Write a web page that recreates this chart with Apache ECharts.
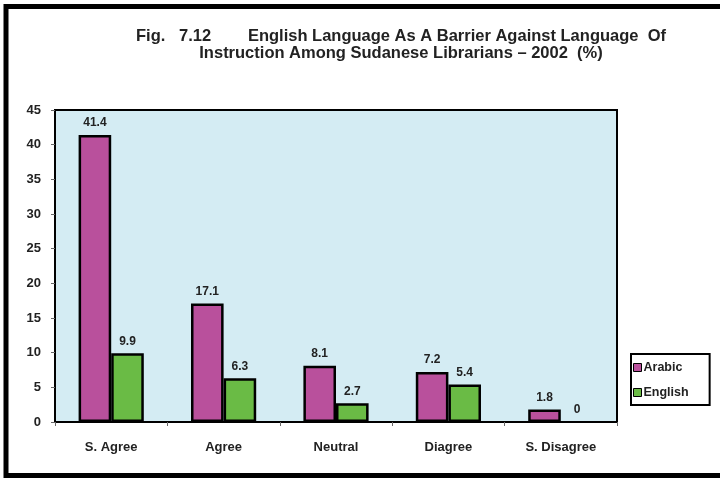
<!DOCTYPE html>
<html>
<head>
<meta charset="utf-8">
<script src="https://cdn.jsdelivr.net/npm/echarts@6/dist/echarts.min.js"></script>
<style>
  html, body { margin: 0; padding: 0; background: #fff; }
  #chart { width: 720px; height: 478px; }
</style>
</head>
<body>
<div id="chart"></div>
<script>
// Response categories and percentages per language of instruction
const categories = ['S. Agree', 'Agree', 'Neutral', 'Diagree', 'S. Disagree'];
const arabic = [41.4, 17.1, 8.1, 7.2, 1.8];
const english = [9.9, 6.3, 2.7, 5.4, 0];
const seriesNames = ['Arabic', 'English'];

const FONT = '"Liberation Sans", Arial, sans-serif';
const labelStyle = {
  show: true,
  position: 'top',
  distance: 6,
  fontFamily: FONT,
  fontWeight: 'bold',
  fontSize: 12,
  color: '#222'
};

// zero-height bars keep their label but draw no outline
const toBarData = values => values.map(v =>
  v === 0 ? { value: v, itemStyle: { borderWidth: 0 } } : v
);

const chart = echarts.init(document.getElementById('chart'));
chart.setOption({
  animation: false,
  backgroundColor: '#fff',
  title: {
    text: 'Fig.   7.12        English Language As A Barrier Against Language  Of\nInstruction Among Sudanese Librarians \u2013 2002  (%)',
    left: 396,
    top: 23,
    textAlign: 'center',
    textStyle: {
      fontFamily: FONT,
      fontWeight: 'bold',
      fontSize: 16.5,
      lineHeight: 17,
      color: '#222'
    }
  },
  graphic: [{
    type: 'rect',
    shape: { x: 6, y: 6.5, width: 720, height: 469 },
    style: { fill: 'none', stroke: '#000', lineWidth: 5 },
    z: 100
  }],
  legend: {
    orient: 'vertical',
    left: 631,
    top: 354,
    data: seriesNames,
    backgroundColor: '#fff',
    borderColor: '#000',
    borderWidth: 2,
    borderRadius: 0,
    padding: [7, 21, 6, 2],
    itemWidth: 8,
    itemHeight: 8,
    itemGap: 12,
    icon: 'rect',
    itemStyle: { borderColor: '#000', borderWidth: 1 },
    textStyle: {
      fontFamily: FONT,
      fontWeight: 'bold',
      fontSize: 12.5,
      color: '#222',
      padding: [0, 0, 0, -3]
    }
  },
  grid: {
    left: 55,
    right: 103,
    top: 110,
    bottom: 56,
    show: true,
    backgroundColor: '#D4ECF3',
    borderColor: '#000',
    borderWidth: 2
  },
  xAxis: {
    type: 'category',
    data: categories,
    axisLine: { lineStyle: { color: '#000', width: 2 } },
    axisTick: { show: true, length: 4, lineStyle: { color: '#666', width: 1 } },
    axisLabel: {
      margin: 19,
      fontFamily: FONT,
      fontWeight: 'bold',
      fontSize: 13,
      color: '#222'
    }
  },
  yAxis: {
    type: 'value',
    min: 0,
    max: 45,
    interval: 5,
    splitLine: { show: false },
    axisLine: { show: true, lineStyle: { color: '#000', width: 2 } },
    axisTick: { show: true, length: 4, lineStyle: { color: '#666', width: 1 } },
    axisLabel: {
      margin: 14,
      fontFamily: FONT,
      fontWeight: 'bold',
      fontSize: 13,
      color: '#222'
    }
  },
  series: [
    {
      name: seriesNames[0],
      type: 'bar',
      data: toBarData(arabic),
      barWidth: '29%',
      barGap: '0%',
      itemStyle: { color: '#B9509C', borderColor: '#000', borderWidth: 2.5 },
      label: labelStyle
    },
    {
      name: seriesNames[1],
      type: 'bar',
      data: toBarData(english),
      barWidth: '29%',
      barGap: '0%',
      itemStyle: { color: '#6ABB45', borderColor: '#000', borderWidth: 2.5 },
      label: labelStyle
    }
  ]
});
</script>
</body>
</html>
